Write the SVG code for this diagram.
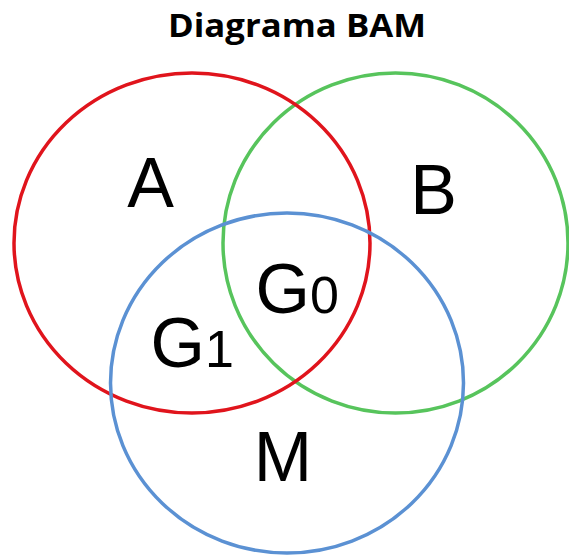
<svg xmlns="http://www.w3.org/2000/svg" width="569" height="556" viewBox="0 0 569 556">
<style>
.c{fill:none;stroke-width:3.5}
.t{font-family:"Liberation Sans",Arial,sans-serif;font-size:70px;fill:#000}
.s{font-size:52px}
.title{font-family:"Open Sans","Liberation Sans",sans-serif;font-weight:bold;font-size:32px;fill:#000}
</style>
<rect width="569" height="556" fill="#fff"/>
<text class="title" x="297" y="37" text-anchor="middle" textLength="258" lengthAdjust="spacingAndGlyphs">Diagrama BAM</text>
<g id="B"><ellipse class="c" cx="395.5" cy="243" rx="172.5" ry="170" stroke="#57c45c"/></g>
<g id="A"><ellipse class="c" cx="192" cy="243" rx="178" ry="170" stroke="#e0141c"/></g>
<g id="M"><ellipse class="c" cx="287" cy="383" rx="176.5" ry="170" stroke="#5b91d3"/></g>
<g id="labels">
<text class="t" x="150.5" y="207" text-anchor="middle">A</text>
<text class="t" x="433.5" y="214" text-anchor="middle">B</text>
<text class="t" x="255.5" y="313">G<tspan class="s">0</tspan></text>
<text class="t" x="150.5" y="367">G<tspan class="s">1</tspan></text>
<text class="t" x="283" y="481" text-anchor="middle">M</text>
</g>
<g id="connectors"/>
</svg>
